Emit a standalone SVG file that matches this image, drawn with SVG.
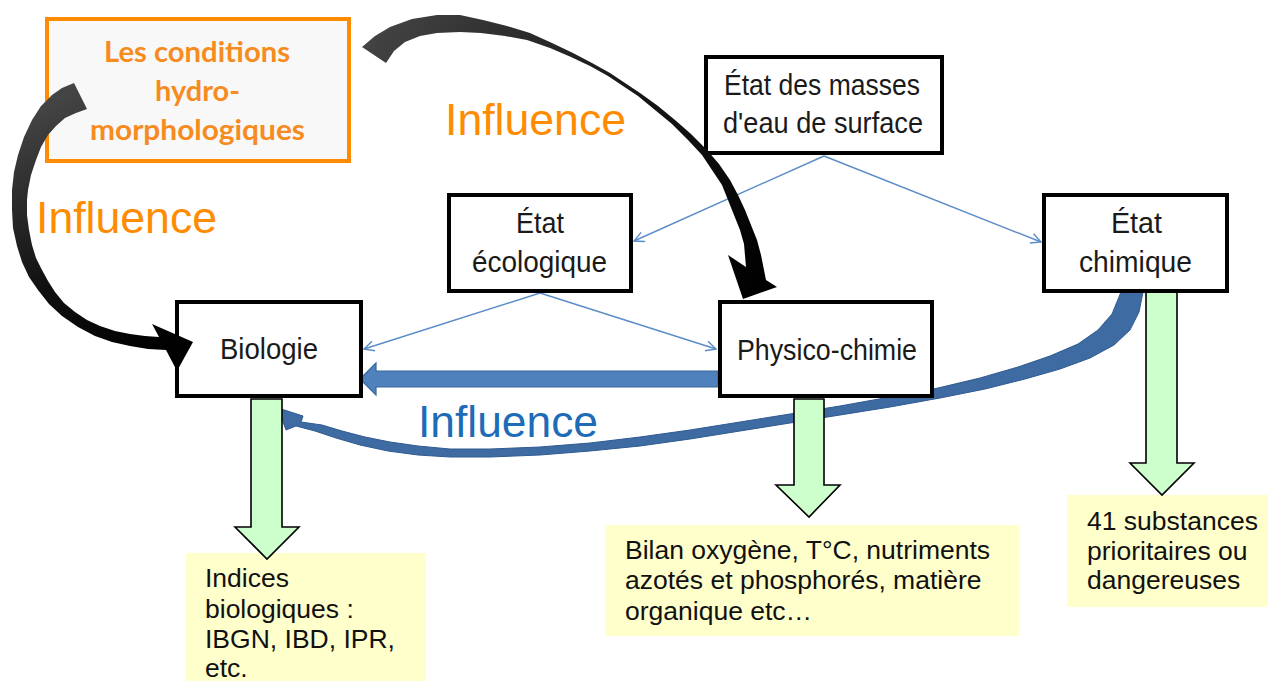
<svg xmlns="http://www.w3.org/2000/svg" width="1268" height="681" viewBox="0 0 1268 681">
<style>
.node{fill:#fff;stroke:#000;stroke-width:4}
.nt{font-family:"Liberation Sans",Arial,sans-serif;font-size:30px;fill:#1a1a1a}
.yel{fill:#FFFFCC}
.yt{font-family:"Liberation Sans",Arial,sans-serif;fill:#111}
.green{fill:#CCFFCC;stroke:#000;stroke-width:1.6;stroke-linejoin:miter}
.thin{fill:none;stroke:#5B8CC8;stroke-width:1.4;marker-end:url(#open)}
.infl{font-family:"Liberation Sans",Arial,sans-serif;font-size:44px}
.ot{font-family:Lato,"Open Sans",sans-serif;font-weight:bold;font-size:29px;fill:#F68B1F;text-anchor:start}
</style>
<defs>
<marker id="open" viewBox="0 0 12 12" refX="11" refY="6" markerWidth="12" markerHeight="12" markerUnits="userSpaceOnUse" orient="auto">
<path d="M1,1 L11,6 L1,11" fill="none" stroke="#5B8CC8" stroke-width="1.4"/>
</marker>
<linearGradient id="gTop" gradientUnits="userSpaceOnUse" x1="362" y1="40" x2="760" y2="290">
<stop offset="0" stop-color="#444"/><stop offset="0.5" stop-color="#1a1a1a"/><stop offset="1" stop-color="#000"/>
</linearGradient>
<linearGradient id="gLeft" gradientUnits="userSpaceOnUse" x1="80" y1="90" x2="190" y2="340">
<stop offset="0" stop-color="#444"/><stop offset="0.6" stop-color="#111"/><stop offset="1" stop-color="#000"/>
</linearGradient>
</defs>

<rect width="1268" height="681" fill="#fff"/>

<g id="yellow-boxes">
<rect class="yel" x="186" y="553" width="240" height="128"/>
<rect class="yel" x="605" y="525" width="414" height="111"/>
<rect class="yel" x="1067" y="495" width="201" height="112"/>
</g>

<g id="connectors">
<line class="thin" x1="824" y1="156" x2="634" y2="241"/>
<line class="thin" x1="824" y1="156" x2="1041" y2="242"/>
<line class="thin" x1="540" y1="293" x2="364" y2="349"/>
<line class="thin" x1="540" y1="293" x2="716" y2="349"/>
<path d="M718,371 L376,371 L376,363 L360,379 L376,395 L376,387 L718,387 Z" fill="#4F81BD" stroke="#3A669C" stroke-width="1.2"/>
<path d="M1143,292 L1139,312 L1130,330 L1114,345 L1090,358 L1060,369 L1025,379 L985,389 L940,398 L890,407 L840,415 L790,423 L740,431 L690,439 L640,446 L590,451 L540,455 L490,457 L450,457 L418,455 L388,451 L360,445 L336,438 L315,431 L296,426 L286,430 L278,408 L303,416 L301,422 L322,425 L342,431 L365,437 L390,442 L418,446 L450,449 L490,449 L540,447 L590,443 L640,437 L690,430 L740,422 L790,414 L840,406 L890,397 L938,388 L980,378 L1018,367 L1050,356 L1078,344 L1098,330 L1112,314 L1121,292 Z" fill="#3F6BA3" stroke="#2F5A91" stroke-width="1" stroke-linejoin="round"/>
<path class="green" d="M251,399 L282,399 L282,527 L299,527 L267,559 L235,527 L251,527 Z"/>
<path class="green" d="M794,399 L824,399 L824,485 L840,485 L809,517 L776,485 L794,485 Z"/>
<path class="green" d="M1146,292 L1177,292 L1177,463 L1194,463 L1162,495 L1130,463 L1146,463 Z"/>
</g>

<g id="orange-box">
<rect x="47" y="19" width="302" height="142" fill="#F8F8F8" stroke="#FF8C00" stroke-width="4"/>
<text class="ot" x="104" y="62" textLength="186" lengthAdjust="spacingAndGlyphs">Les conditions</text>
<text class="ot" x="155" y="101" textLength="85" lengthAdjust="spacingAndGlyphs">hydro-</text>
<text class="ot" x="90" y="140" textLength="215" lengthAdjust="spacingAndGlyphs">morphologiques</text>
</g>

<g id="node-masses">
<rect class="node" x="706" y="57" width="236" height="96"/>
<text class="nt" x="724" y="95" textLength="196" lengthAdjust="spacingAndGlyphs">État des masses</text>
<text class="nt" x="723" y="133" textLength="200" lengthAdjust="spacingAndGlyphs">d'eau de surface</text>
</g>
<g id="node-ecologique">
<rect class="node" x="449" y="195" width="182" height="96"/>
<text class="nt" x="516" y="233" textLength="48" lengthAdjust="spacingAndGlyphs">État</text>
<text class="nt" x="472" y="272" textLength="135" lengthAdjust="spacingAndGlyphs">écologique</text>
</g>
<g id="node-chimique">
<rect class="node" x="1044" y="195" width="183" height="96"/>
<text class="nt" x="1111" y="233" textLength="51" lengthAdjust="spacingAndGlyphs">État</text>
<text class="nt" x="1079" y="272" textLength="113" lengthAdjust="spacingAndGlyphs">chimique</text>
</g>
<g id="node-biologie">
<rect class="node" x="177" y="302" width="184" height="94"/>
<text class="nt" x="220" y="359" textLength="98" lengthAdjust="spacingAndGlyphs">Biologie</text>
</g>
<g id="node-physico">
<rect class="node" x="720" y="302" width="212" height="94"/>
<text class="nt" x="737" y="360" textLength="180" lengthAdjust="spacingAndGlyphs">Physico-chimie</text>
</g>

<g id="black-arrows">
<path fill="url(#gTop)" d="M362,47 L375,36 L390,27 L412,19 L437,15 L460,15 L483,20 L507,26 L530,33 L552,43 L573,53 L592,63 L610,73 L625,83 L640,93 L658,106 L675,120 L691,134 L707,150 L719,164 L730,180 L738,195 L745,210 L751,225 L757,240 L761,255 L766,280 L777,287 L743,299 L728,255 L746,267 L744,244 L740,230 L734,215 L728,200 L722,185 L712,170 L702,155 L688,140 L672,124 L655,110 L638,96 L623,86 L608,76 L590,66 L571,57 L550,48 L527,40 L505,36 L481,33 L460,32 L437,33 L420,36 L405,42 L394,51 L386,63 Z"/>
<path fill="url(#gLeft)" d="M74,83 L62,88 L52,95 L41,106 L32,120 L24,137 L18,155 L14,172 L12,190 L12,210 L13,228 L17,246 L22,262 L29,277 L38,290 L49,304 L62,316 L78,327 L95,336 L112,342 L130,346 L148,349 L166,350 L177,371 L193,342 L152,324 L159,337 L145,336 L130,334 L115,331 L100,326 L87,320 L75,312 L64,303 L55,292 L48,281 L42,270 L36,258 L32,245 L29,230 L27,215 L27,200 L28,190 L31,175 L36,160 L41,147 L48,135 L56,126 L65,118 L76,113 L87,109 Z"/>
</g>

<g id="labels">
<text class="infl" x="36" y="233" fill="#FF8C00" textLength="181" lengthAdjust="spacingAndGlyphs">Influence</text>
<text class="infl" x="445" y="135" fill="#FF8C00" textLength="181" lengthAdjust="spacingAndGlyphs">Influence</text>
<text class="infl" x="418" y="437" fill="#1E6BB8" textLength="180" lengthAdjust="spacingAndGlyphs">Influence</text>
</g>

<g id="text-bio" class="yt" font-size="26.5">
<text x="205" y="587">Indices</text>
<text x="205" y="618">biologiques :</text>
<text x="205" y="648">IBGN, IBD, IPR,</text>
<text x="205" y="677">etc.</text>
</g>
<g id="text-physico" class="yt" font-size="26.5">
<text x="625" y="559">Bilan oxygène, T°C, nutriments</text>
<text x="625" y="589">azotés et phosphorés, matière</text>
<text x="625" y="620">organique etc…</text>
</g>
<g id="text-chimique" class="yt" font-size="26.5">
<text x="1087" y="530">41 substances</text>
<text x="1087" y="560">prioritaires ou</text>
<text x="1087" y="589">dangereuses</text>
</g>
</svg>
